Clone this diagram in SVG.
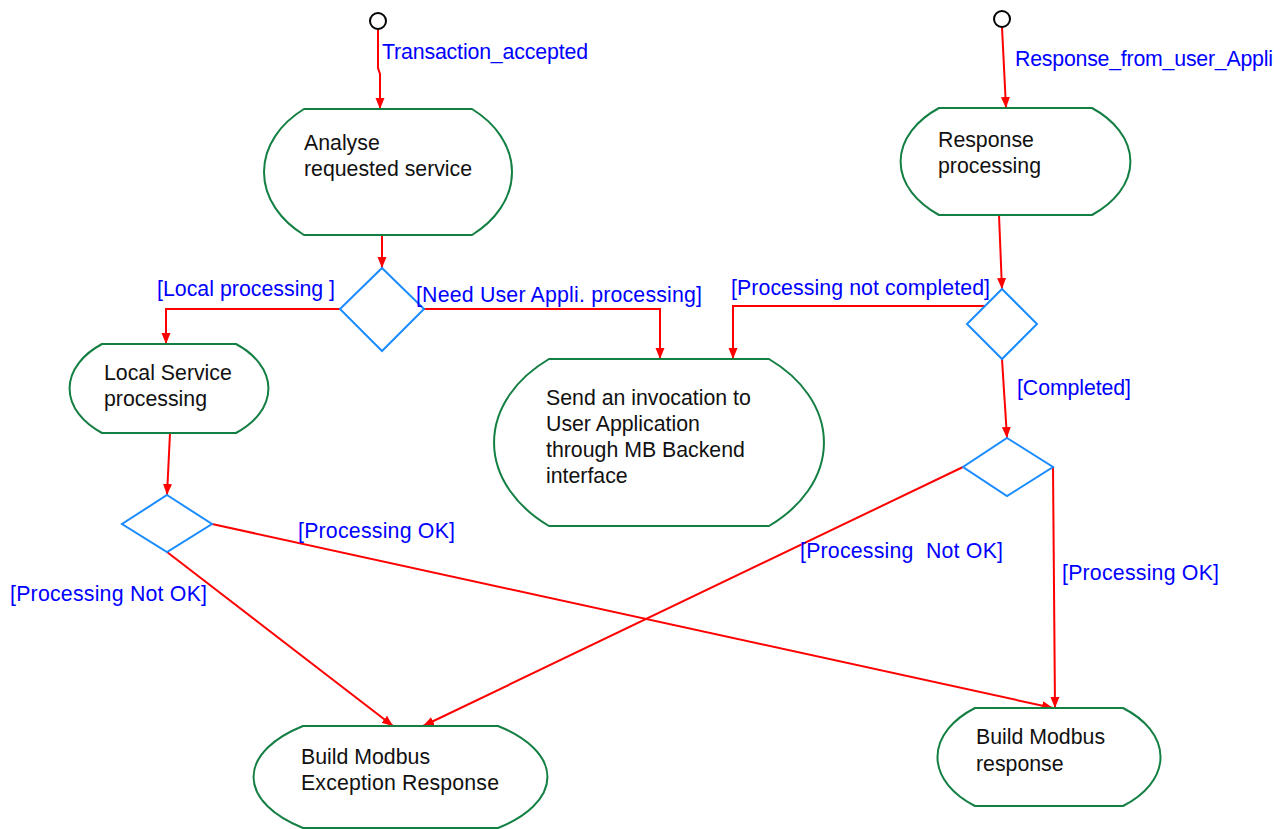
<svg xmlns="http://www.w3.org/2000/svg" width="1287" height="829" viewBox="0 0 1287 829">
<defs>
<style>
.node{fill:#fff;stroke:#137f43;stroke-width:2}
.dec{fill:#fff;stroke:#1a8cff;stroke-width:2}
.start{fill:#fff;stroke:#000;stroke-width:2}
.conn{fill:none;stroke:#ff0000;stroke-width:2;marker-end:url(#arr)}
.t{font-family:"Liberation Sans",Arial,sans-serif;font-size:21.3px;fill:#111}
.lbl{font-family:"Liberation Sans",Arial,sans-serif;font-size:21.3px;fill:#0000ff;white-space:pre}
</style>
<marker id="arr" markerUnits="userSpaceOnUse" markerWidth="12" markerHeight="10" refX="11" refY="5" orient="auto">
<path d="M0,0.5 L11,5 L0,9.5 Z" fill="#ff0000"/>
</marker>
</defs>
<rect width="1287" height="829" fill="#fff"/>
<g id="connectors">
<path class="conn" d="M378,29 L378,68 L380,74 L380,109"/>
<path class="conn" d="M1002,27 L1006,108"/>
<path class="conn" d="M382,235 L382,268"/>
<path class="conn" d="M340,309 L166,309 L166,344"/>
<path class="conn" d="M424,309 L660,309 L660,359"/>
<path class="conn" d="M999,215 L1002,289"/>
<path class="conn" d="M985,306 L733,306 L733,359"/>
<path class="conn" d="M1002,359 L1007,438"/>
<path class="conn" d="M963,467 L423,726"/>
<path class="conn" d="M1053,467 L1055,708"/>
<path class="conn" d="M170,433 L167,495"/>
<path class="conn" d="M212,524 L1053,708"/>
<path class="conn" d="M167,552 L393,726"/>
</g>
<g id="start1"><circle class="start" cx="378" cy="21" r="8"/></g>
<g id="start2"><circle class="start" cx="1002" cy="19" r="8"/></g>
<g id="analyse">
<path class="node" d="M304,109 L472,109 A110.8,81.9 0 0 1 472,235 L304,235 A110.8,81.9 0 0 1 304,109 Z"/>
<text class="t" x="304" y="150">Analyse</text>
<text class="t" x="304" y="176">requested service</text>
</g>
<g id="response">
<path class="node" d="M939,108 L1092,108 A106.6,69.6 0 0 1 1092,215 L939,215 A106.6,69.6 0 0 1 939,108 Z"/>
<text class="t" x="938" y="147">Response</text>
<text class="t" x="938" y="173">processing</text>
</g>
<g id="local">
<path class="node" d="M102,344 L236,344 A90,57.9 0 0 1 236,433 L102,433 A90,57.9 0 0 1 102,344 Z"/>
<text class="t" x="104" y="380">Local Service</text>
<text class="t" x="104" y="406">processing</text>
</g>
<g id="send">
<path class="node" d="M549,359 L769,359 A152.4,108.6 0 0 1 769,526 L549,526 A152.4,108.6 0 0 1 549,359 Z"/>
<text class="t" x="546" y="405">Send an invocation to</text>
<text class="t" x="546" y="431">User Application</text>
<text class="t" x="546" y="457">through MB Backend</text>
<text class="t" x="546" y="483">interface</text>
</g>
<g id="exception">
<path class="node" d="M303,726 L498,726 A137,66.3 0 0 1 498,828 L303,828 A137,66.3 0 0 1 303,726 Z"/>
<text class="t" x="301" y="764">Build Modbus</text>
<text class="t" x="301" y="790" textLength="198">Exception Response</text>
</g>
<g id="buildresp">
<path class="node" d="M975,708 L1123,708 A103.9,63.7 0 0 1 1123,806 L975,806 A103.9,63.7 0 0 1 975,708 Z"/>
<text class="t" x="976" y="744">Build Modbus</text>
<text class="t" x="976" y="771">response</text>
</g>
<g id="dec1"><path class="dec" d="M382,268 L424,309 L382,351 L340,309 Z"/></g>
<g id="dec2"><path class="dec" d="M1002,289 L1037,324 L1002,359 L967,324 Z"/></g>
<g id="dec3"><path class="dec" d="M1007,438 L1053,467 L1007,496 L963,467 Z"/></g>
<g id="dec4"><path class="dec" d="M167,495 L212,524 L167,552 L122,524 Z"/></g>
<g id="labels">
<text class="lbl" x="382" y="59" textLength="206">Transaction_accepted</text>
<text class="lbl" x="1015" y="66" textLength="258">Response_from_user_Appli</text>
<text class="lbl" x="157" y="296" textLength="178">[Local processing ]</text>
<text class="lbl" x="416" y="302" textLength="286">[Need User Appli. processing]</text>
<text class="lbl" x="731" y="295" textLength="259">[Processing not completed]</text>
<text class="lbl" x="1017" y="395" textLength="114">[Completed]</text>
<text class="lbl" x="298" y="538" textLength="157">[Processing OK]</text>
<text class="lbl" x="10" y="601" textLength="197">[Processing Not OK]</text>
<text class="lbl" x="800" y="558" textLength="203">[Processing  Not OK]</text>
<text class="lbl" x="1062" y="580" textLength="157">[Processing OK]</text>
</g>
</svg>
